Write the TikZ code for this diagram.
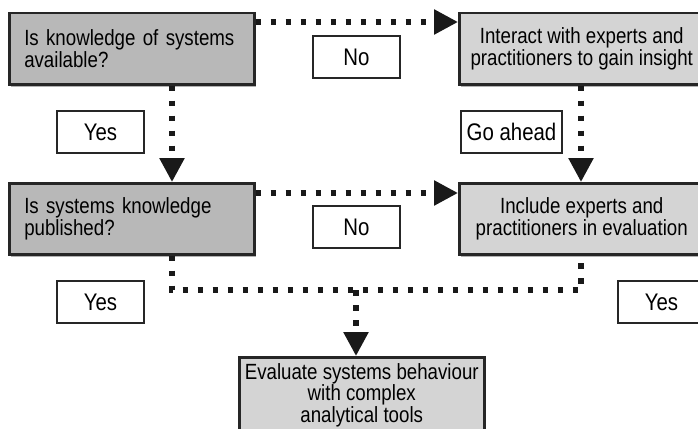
\documentclass[tikz,border=0pt]{standalone}
\usepackage{fontspec}
\setmainfont{Liberation Sans}[FakeStretch=0.85]
\usetikzlibrary{arrows.meta,shadows}

\begin{document}
\begin{tikzpicture}[x=1pt,y=-1pt,
  box/.style={draw=black!85,line width=2.5pt,minimum height=71pt,anchor=north west,
    font=\fontsize{22}{20}\selectfont,
    drop shadow={shadow xshift=2pt,shadow yshift=-3pt,fill=black,opacity=.3}},
  question/.style={box,fill=black!28,text width=215pt,inner xsep=15pt,align=left},
  action/.style={box,fill=black!17,minimum width=245pt,inner xsep=4pt,align=center},
  answer/.style={draw=black!85,line width=2pt,fill=white,anchor=north west,
    minimum width=87pt,minimum height=42pt,font=\fontsize{24}{24}\selectfont},
  flow/.style={line width=5.5pt,dash pattern=on 5.5pt off 9.5pt,black!90,
    -{Triangle[length=24pt,width=24pt]}},
  link/.style={line width=5.5pt,dash pattern=on 5.5pt off 9.5pt,black!90}]
\useasboundingbox (0,0) rectangle (698,428);
\clip (0,0) rectangle (698,428);

% boxes
\node[question] (known) at (8,12) {Is knowledge of systems\\available?};
\node[question] (published) at (8,182) {Is systems knowledge\\published?};
\node[action] (interact) at (458,12) {Interact with experts and\\practitioners to gain insight};
\node[action] (include) at (458,182) {Include experts and\\practitioners in evaluation};
\node[action,minimum height=76pt,inner ysep=5pt] (evaluate) at (238,356) {Evaluate systems behaviour\\with complex\\analytical tools};

% answers
\node[answer] (no1) at (312,35) {No};
\node[answer] (yes1) at (56,110) {Yes};
\node[answer,minimum width=101pt,inner xsep=2pt] (goahead) at (460,110) {Go ahead};
\node[answer] (no2) at (312,205) {No};
\node[answer] (yes2) at (56,280) {Yes};
\node[answer] (yes3) at (617,280) {Yes};

% connectors
\coordinate (left) at (172,290);
\coordinate (right) at (581,290);
\coordinate (join) at (356,290);
\draw[flow] ([yshift=-10pt]known.north east) -- ([yshift=-10pt]interact.north west);
\draw[flow] ([yshift=-11pt]published.north east) -- ([yshift=-11pt]include.north west);
\draw[flow] ([xshift=164pt]known.south west) -- ([xshift=164pt]published.north west);
\draw[flow] ([xshift=123pt]interact.south west) -- ([xshift=123pt]include.north west);
\draw[link] ([xshift=164pt]published.south west) -- (left) -- (right) -- ([xshift=123pt]include.south west);
\draw[flow] (join) -- ([xshift=118pt]evaluate.north west);
\end{tikzpicture}
\end{document}
